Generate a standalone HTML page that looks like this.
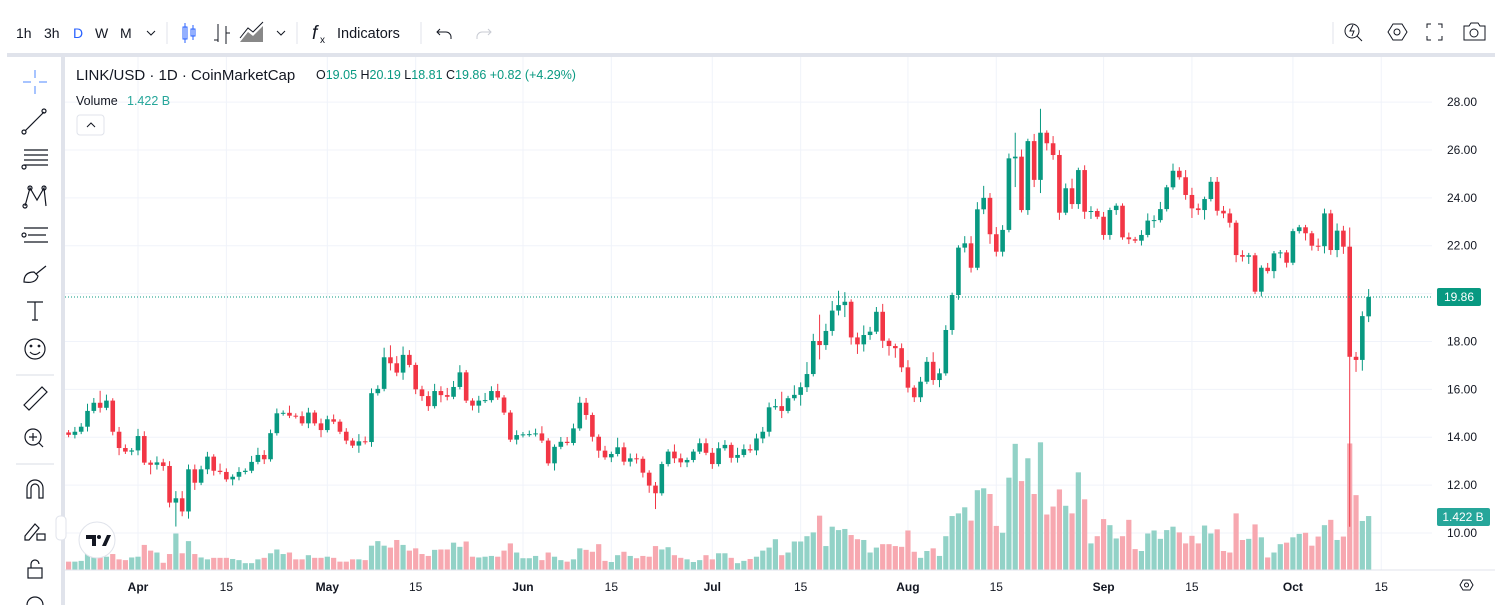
<!DOCTYPE html>
<html><head><meta charset="utf-8"><style>
html,body{margin:0;padding:0;background:#fff;width:1500px;height:605px;overflow:hidden;font-family:"Liberation Sans",sans-serif;}
svg text{font-family:"Liberation Sans",sans-serif;}
</style></head><body>
<svg id="chart" width="1500" height="605" viewBox="0 0 1500 605" xmlns="http://www.w3.org/2000/svg">
<rect x="0" y="0" width="1500" height="605" fill="#fff"/>
<!-- top toolbar -->
<g fill="#131722" font-size="14">
<text x="16" y="38">1h</text>
<text x="44" y="38">3h</text>
<text x="73" y="38" fill="#2962ff">D</text>
<text x="95" y="38">W</text>
<text x="120" y="38">M</text>
<path d="M147 31 l4 4 l4 -4" stroke="#131722" fill="none"/>
<line x1="167" y1="22" x2="167" y2="44" stroke="#e0e3eb"/>
<g stroke="#2962ff" fill="none"><rect x="183" y="27" width="4" height="12"/><line x1="185" y1="23" x2="185" y2="43"/><rect x="191" y="29" width="4" height="7"/><line x1="193" y1="25" x2="193" y2="40"/></g>
<g stroke="#131722" fill="none"><line x1="218" y1="24" x2="218" y2="42"/><line x1="214" y1="40" x2="218" y2="40"/><line x1="226" y1="26" x2="226" y2="44"/><line x1="226" y1="33" x2="230" y2="33"/></g>
<g><path d="M240 42 L248 32 L253 36 L263 26 L263 42 Z" fill="#888"/><path d="M240 38 L248 28 L253 32 L263 22" stroke="#131722" fill="none"/></g>
<path d="M277 31 l4 4 l4 -4" stroke="#131722" fill="none"/>
<line x1="297" y1="22" x2="297" y2="44" stroke="#e0e3eb"/>
<text x="312" y="39" font-family="Liberation Serif" font-style="italic" font-size="19">f</text>
<text x="320" y="43" font-size="10">x</text>
<text x="337" y="38" font-size="14.5">Indicators</text>
<line x1="421" y1="22" x2="421" y2="44" stroke="#e0e3eb"/>
<path d="M440 29 l-3 3 l3 3 M437 32 h9 a5 5 0 0 1 5 5 v2" stroke="#131722" fill="none"/>
<path d="M488 29 l3 3 l-3 3 M491 32 h-9 a5 5 0 0 0 -5 5 v2" stroke="#c8cbd3" fill="none"/>
<line x1="1333" y1="22" x2="1333" y2="44" stroke="#e0e3eb"/>
<g stroke="#131722" fill="none"><circle cx="1352" cy="31" r="7"/><line x1="1357" y1="36" x2="1362" y2="41"/><path d="M1353 25 l-3 6 h4 l-2 5"/></g>
<path d="M1388 32 l5 -8 h9 l5 8 l-5 8 h-9 z" stroke="#131722" fill="none"/>
<circle cx="1397" cy="32" r="3" stroke="#131722" fill="none"/>
<path d="M1427 28 v-4 h4 M1438 24 h4 v4 M1442 36 v4 h-4 M1431 40 h-4 v-4" stroke="#131722" fill="none"/>
<g stroke="#131722" fill="none"><path d="M1464 26 h5 l2 -3 h7 l2 3 h5 v14 h-21 z"/><circle cx="1474" cy="33" r="4"/></g>
</g>
<rect x="7" y="53" width="1488" height="4" fill="#e0e3eb"/>
<rect x="61" y="57" width="4" height="548" fill="#e0e3eb"/>
<!-- left toolbar -->
<g stroke="#131722" fill="none" stroke-width="1.2">
<g stroke="#6c9cff"><line x1="35" y1="70" x2="35" y2="78"/><line x1="35" y1="86" x2="35" y2="94"/><line x1="23" y1="82" x2="31" y2="82"/><line x1="39" y1="82" x2="47" y2="82"/></g>
<g><line x1="25" y1="131" x2="44" y2="112"/><circle cx="24" cy="132" r="2"/><circle cx="44" cy="111" r="2"/></g>
<g><line x1="24" y1="150" x2="48" y2="150"/><line x1="24" y1="155" x2="48" y2="155"/><line x1="24" y1="160" x2="48" y2="160"/><line x1="24" y1="165" x2="48" y2="165"/><circle cx="24" cy="167" r="2"/></g>
<g><path d="M25 206 L30 188 L37 200 L44 188 L46 206"/><circle cx="25" cy="206" r="2"/><circle cx="30" cy="188" r="2"/><circle cx="44" cy="188" r="2"/></g>
<g><line x1="24" y1="228" x2="48" y2="228"/><line x1="28" y1="235" x2="46" y2="235"/><line x1="24" y1="242" x2="48" y2="242"/><circle cx="24" cy="235" r="2"/></g>
<g><path d="M24 282 q0 -10 10 -10 l4 4 q-2 8 -14 6 z M36 274 l10 -8"/></g>
<g><path d="M27 302 h16 M35 302 v18 M32 320 h6"/></g>
<g><circle cx="35" cy="349" r="10"/><circle cx="31" cy="346" r="0.8"/><circle cx="39" cy="346" r="0.8"/><path d="M30 352 q5 5 10 0"/></g>
<line x1="16" y1="375" x2="54" y2="375" stroke="#e0e3eb"/>
<g><path d="M24 405 l18 -18 l5 5 l-18 18 z"/></g>
<g><circle cx="33" cy="437" r="8"/><line x1="39" y1="443" x2="43" y2="447"/><line x1="29" y1="437" x2="37" y2="437"/><line x1="33" y1="433" x2="33" y2="441"/></g>
<line x1="16" y1="464" x2="54" y2="464" stroke="#e0e3eb"/>
<g><path d="M27 498 v-10 a8 8 0 0 1 16 0 v10 h-4 v-10 a4 4 0 0 0 -8 0 v10 z"/></g>
<g><path d="M25 536 l10 -12 l4 4 l-10 12 h-4 z"/><rect x="37" y="534" width="8" height="6"/></g>
<g><rect x="28" y="568" width="14" height="10"/><path d="M31 568 v-4 a4 4 0 0 1 8 0"/></g>
<circle cx="35" cy="605" r="8"/>
</g>
<!-- chart area -->
<g id="grid"></g>
<g id="vol"></g>
<g id="candles"></g>
<line x1="65" y1="297" x2="1432" y2="297" stroke="#089981" stroke-dasharray="1 2"/>
<line x1="65" y1="570" x2="1495" y2="570" stroke="#e0e3eb"/>
<g id="yaxis" font-size="12" fill="#131722"></g>
<g id="xaxis" font-size="12" fill="#131722"></g>
<rect x="1437" y="288" width="44" height="18" rx="2" fill="#089981"/>
<text x="1459" y="301" fill="#fff" font-size="12" text-anchor="middle">19.86</text>
<rect x="1437" y="508" width="53" height="18" rx="2" fill="#26a69a"/>
<text x="1463" y="521" fill="#fff" font-size="12" text-anchor="middle">1.422 B</text>
<path d="M1460 585 l3 -5 h7 l3 5 l-3 5 h-7 z" stroke="#131722" fill="none"/>
<circle cx="1466.5" cy="585" r="2" stroke="#131722" fill="none"/>
<!-- legend -->
<g>
<text x="76" y="80" font-size="15" fill="#131722">LINK/USD · 1D · CoinMarketCap</text>
<text x="316" y="79" font-size="12.5" fill="#089981"><tspan fill="#131722">O</tspan>19.05 <tspan fill="#131722">H</tspan>20.19 <tspan fill="#131722">L</tspan>18.81 <tspan fill="#131722">C</tspan>19.86 +0.82 (+4.29%)</text>
<text x="76" y="105" font-size="12.5" fill="#131722">Volume</text>
<text x="127" y="105" font-size="12.5" fill="#26a69a">1.422 B</text>
<rect x="77" y="115" width="27" height="20" rx="3" fill="#fff" stroke="#e0e3eb"/>
<path d="M87 127 l4 -4 l4 4" stroke="#131722" fill="none"/>
</g>
<g>
<circle cx="97" cy="540" r="18" fill="#fff" stroke="#e0e3eb"/>
<path d="M86 535 h10 v11 h-4 v-7 h-6 z" fill="#131722"/><circle cx="99" cy="537" r="2" fill="#131722"/><path d="M102 546 l5 -11 h4 l-5 11 z" fill="#131722"/>
</g>
<rect x="56" y="516" width="10" height="24" rx="4" fill="#fff" stroke="#e0e3eb"/>
</svg>
<script>
const closes=[14.1,14.23,14.44,15.1,15.44,15.23,15.53,14.23,13.55,13.4,
13.45,14.05,12.94,12.85,12.95,12.8,11.27,11.45,10.9,12.66,
12.1,12.66,13.19,12.6,12.55,12.24,12.35,12.55,12.6,12.97,
13.26,13.08,14.17,15.0,15.02,14.9,14.88,14.58,15.03,14.58,
14.3,14.75,14.65,14.23,13.86,13.65,13.83,13.8,15.84,16.02,
17.34,17.09,16.7,17.44,17.02,16.0,15.72,15.3,15.93,15.76,
15.69,16.1,16.71,15.53,15.32,15.53,15.55,15.93,15.66,15.03,
13.9,14.09,14.12,14.13,14.16,13.86,12.91,13.6,
13.81,13.76,14.37,15.44,14.93,14.02,13.44,13.16,13.3,13.58,
12.98,13.12,13.1,12.52,11.98,11.66,12.88,13.4,13.12,12.95,
13.05,13.4,13.75,13.35,12.88,13.54,13.68,13.14,13.26,13.5,
13.45,13.95,14.23,15.25,15.3,15.1,15.63,15.77,16.09,16.64,
18.02,17.85,18.44,19.29,19.52,19.66,18.17,17.88,18.27,18.41,
19.24,18.03,17.81,17.72,16.92,16.07,15.67,16.32,17.15,16.39,
16.67,18.48,19.94,
21.92,22.1,21.08,23.52,24.0,22.48,21.75,22.66,25.65,25.72,
23.49,26.37,24.75,26.72,26.28,25.79,23.38,24.4,23.74,25.16,
23.42,23.45,23.21,22.45,23.49,23.67,22.35,22.27,22.21,22.45,
23.05,23.07,23.53,24.44,25.13,24.86,24.12,23.56,23.49,23.95,
24.67,23.46,23.35,22.96,21.61,21.54,21.6,20.08,21.08,20.94,
21.68,21.72,21.29,22.61,22.77,22.52,22.0,21.98,23.35,21.82,
22.63,21.96,17.36,17.23,19.06,19.86];
const firstOpen=14.2;
const lastOpen=19.05;
const upperWick=[0.1,0.2,0.15,0.3,0.2,0.5,0.25,0.1,0.2,0.15,
0.1,0.3,0.2,0.1,0.25,0.15,0.2,0.3,0.3,0.2,
0.2,0.15,0.2,0.1,0.3,0.15,0.1,0.2,0.1,0.25,
0.3,0.2,0.15,0.2,0.1,0.3,0.1,0.2,0.2,0.1,
0.2,0.15,0.2,0.1,0.15,0.1,0.3,0.2,0.2,0.15,
0.4,0.5,0.3,0.35,0.2,0.1,0.15,0.2,0.3,0.2,
0.3,0.25,0.3,0.1,0.1,0.2,0.3,0.2,0.3,0.1,
0.1,0.2,0.1,0.15,0.2,0.3,0.1,0.1,
0.2,0.2,0.2,0.25,0.2,0.1,0.1,0.2,0.1,0.4,
0.2,0.2,0.2,0.1,0.1,0.15,0.1,0.1,0.3,0.2,
0.1,0.1,0.2,0.2,0.2,0.25,0.2,0.1,0.3,0.2,
0.2,0.2,0.2,0.2,0.3,0.6,0.1,0.4,0.2,0.5,
0.3,1.1,0.3,0.4,0.6,0.4,0.1,0.2,0.4,0.2,
0.2,0.33,0.1,0.1,0.2,0.3,0.1,0.2,0.2,0.4,
0.2,0.2,0.1,
0.1,0.3,0.3,0.3,0.5,0.2,0.3,0.2,0.2,1.0,
0.3,0.1,0.3,1.0,0.1,0.3,0.2,0.2,0.4,0.1,
0.2,0.2,0.1,0.2,0.1,0.1,0.1,0.2,0.1,0.2,
0.3,0.2,0.3,0.1,0.3,0.15,0.3,0.3,0.2,0.1,
0.2,0.2,0.2,0.2,0.1,0.2,0.1,0.1,0.1,0.2,
0.1,0.1,0.1,0.1,0.1,0.1,0.1,0.3,0.2,0.15,
0.3,0.2,0.8,0.2,0.2,0.33];
const lowerWick=[0.1,0.15,0.1,0.2,0.1,0.2,0.1,0.15,0.3,0.1,
0.15,0.2,0.1,0.4,0.2,0.2,0.2,1.0,0.2,0.3,
0.3,0.1,0.2,0.2,0.1,0.1,0.25,0.15,0.1,0.1,
0.1,0.2,0.1,0.1,0.1,0.1,0.1,0.1,0.2,0.1,
0.3,0.1,0.1,0.1,0.15,0.1,0.3,0.1,0.2,0.1,
0.1,0.3,0.15,0.3,0.1,0.2,0.2,0.2,0.1,0.3,
0.15,0.1,0.1,0.1,0.2,0.3,0.1,0.1,0.1,0.1,
0.1,0.2,0.1,0.1,0.1,0.1,0.1,0.3,
0.1,0.1,0.1,0.1,0.2,0.2,0.3,0.1,0.2,0.1,
0.15,0.2,0.2,0.2,0.3,0.66,0.1,0.1,0.2,0.2,
0.2,0.1,0.1,0.1,0.2,0.1,0.1,0.2,0.2,0.1,
0.1,0.2,0.2,0.2,0.1,0.3,0.1,0.1,0.45,0.2,
0.1,0.6,0.2,0.2,0.2,0.5,0.3,0.4,0.3,0.2,
0.1,0.3,0.4,0.4,0.2,0.2,0.2,0.2,0.1,0.2,
0.3,0.1,0.2,
0.2,0.2,0.2,0.1,0.2,0.4,0.2,0.2,0.1,1.2,
0.1,0.2,0.3,0.55,0.3,0.2,0.3,0.1,0.2,0.2,
0.3,0.3,0.1,0.2,0.2,0.2,0.1,0.2,0.1,0.2,
0.1,0.3,0.1,0.1,0.1,0.1,0.2,0.4,0.2,0.4,
0.1,0.2,0.2,0.2,0.3,0.2,0.3,0.1,0.2,0.1,
0.3,0.2,0.2,0.1,0.1,0.3,0.2,0.2,0.3,0.2,
0.3,0.3,7.1,0.5,0.45,0.24];
const volumes=[0.22,0.22,0.24,0.44,0.35,0.33,0.35,0.42,0.28,0.26,
0.33,0.35,0.66,0.51,0.46,0.19,0.42,0.96,0.44,0.76,
0.42,0.33,0.28,0.32,0.32,0.32,0.29,0.26,0.18,0.18,
0.28,0.32,0.44,0.54,0.42,0.46,0.28,0.28,0.39,0.32,
0.32,0.35,0.32,0.22,0.22,0.28,0.28,0.26,0.64,0.76,
0.64,0.59,0.79,0.66,0.51,0.57,0.42,0.37,0.53,0.54,
0.54,0.72,0.61,0.75,0.35,0.33,0.35,0.37,0.35,0.51,
0.70,0.46,0.31,0.31,0.37,0.26,0.46,0.35,
0.26,0.22,0.28,0.57,0.53,0.48,0.68,0.24,0.21,0.39,
0.48,0.37,0.31,0.37,0.35,0.63,0.54,0.60,0.39,0.32,
0.28,0.21,0.26,0.39,0.28,0.44,0.44,0.32,0.18,0.24,
0.29,0.35,0.51,0.59,0.81,0.39,0.46,0.75,0.75,0.89,
0.99,1.43,0.63,1.14,1.05,1.08,0.92,0.81,0.79,0.46,
0.59,0.68,0.68,0.63,0.61,1.04,0.48,0.32,0.50,0.57,
0.37,0.89,1.42,
1.49,1.65,1.30,2.10,2.15,2.00,1.16,0.98,2.43,3.32,
2.34,2.94,2.00,3.36,1.46,1.67,2.12,1.69,1.49,2.57,
1.86,0.70,0.89,1.34,1.18,0.83,0.89,1.32,0.55,0.50,
0.96,1.04,0.82,1.05,1.14,0.99,0.70,0.90,0.70,1.17,
0.96,1.07,0.50,0.46,1.49,0.79,0.82,1.20,0.86,0.33,
0.46,0.68,0.72,0.86,0.95,0.98,0.64,0.88,1.18,1.32,
0.79,0.88,3.33,1.97,1.29,1.42];
const firstDayOffset=-11; // first candle = Mar 21 (days from Apr 1)
const priceTicks=[10,12,14,16,18,20,22,24,26,28];
const timeLabels=["Apr","15","May","15","Jun","15","Jul","15","Aug","15","Sep","15","Oct","15"];
const timeDays=[0,14,30,44,61,75,91,105,122,136,153,167,183,197];
const timeBold=[true,false,true,false,true,false,true,false,true,false,true,false,true,false];

const NS='http://www.w3.org/2000/svg';
const xOf=d=>138+d*6.311;
const yOf=p=>533-(p-10)*23.94;
const yVol=v=>570-v*38;
function mk(parent,tag,attrs){const e=document.createElementNS(NS,tag);for(const k in attrs)e.setAttribute(k,attrs[k]);parent.appendChild(e);return e;}

const grid=document.getElementById('grid');
priceTicks.forEach(p=>{
  const l=mk(grid,'line',{x1:65,x2:1432,y1:yOf(p),y2:yOf(p),stroke:'#f0f3fa'});
  
  
});
timeDays.forEach(d=>{
  const l=mk(grid,'line',{x1:xOf(d),x2:xOf(d),y1:57,y2:570,stroke:'#f0f3fa'});
  
  
});
const yaxis=document.getElementById('yaxis');
priceTicks.forEach(p=>{
  const t=mk(yaxis,'text',{x:1447,y:yOf(p)+4});
  t.textContent=p.toFixed(2);
  
  
});
const xaxis=document.getElementById('xaxis');
timeLabels.forEach((s,i)=>{
  const t=mk(xaxis,'text',{x:xOf(timeDays[i]),y:591,'text-anchor':'middle','font-weight':timeBold[i]?'bold':'normal'});
  t.textContent=s;
  
  
});
const cg=document.getElementById('candles'), vg=document.getElementById('vol');
closes.forEach((c,i)=>{
  const o=i===0?firstOpen:(i===closes.length-1?lastOpen:closes[i-1]);
  const up=c>=o;
  const col=up?'#089981':'#f23645';
  const x=xOf(firstDayOffset+i);
  const hi=Math.max(o,c)+upperWick[i], lo=Math.min(o,c)-lowerWick[i];
  const vb=mk(vg,'rect',{x:x-2.6,width:5.2,y:yVol(volumes[i]),height:570-yVol(volumes[i]),fill:up?'#92d2c7':'#f7a8b0'});
  
  
  const w=mk(cg,'line',{x1:x,x2:x,y1:yOf(hi),y2:yOf(lo),stroke:col,'stroke-width':1});
  
  
  const top=yOf(Math.max(o,c)), bh=Math.max(1,yOf(Math.min(o,c))-top);
  const b=mk(cg,'rect',{x:x-2.3,width:4.6,y:top,height:bh,fill:col});
  
  
});
</script>
</body></html>
